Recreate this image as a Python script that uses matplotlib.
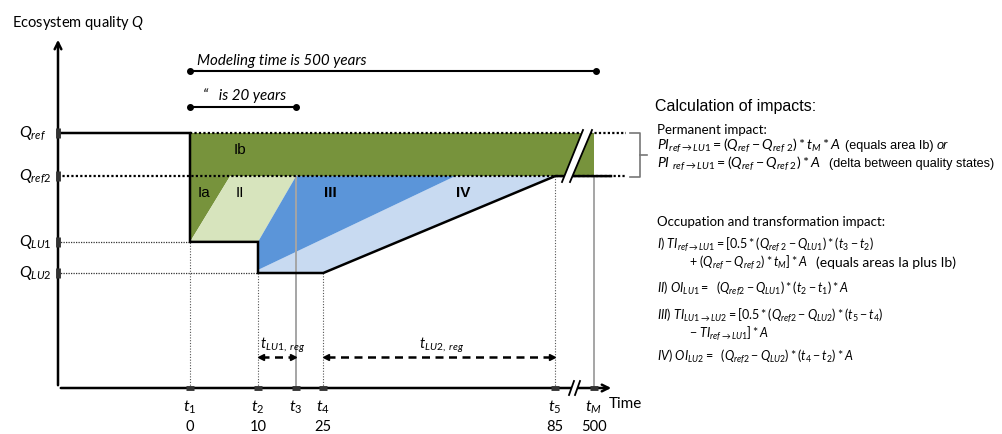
import matplotlib
matplotlib.use("Agg")
import matplotlib.pyplot as plt
from matplotlib.patches import Polygon, Rectangle

# ---------------- data (schematic diagram values) ----------------
t_symbols = ['1', '2', '3', '4', '5', 'M']
t_years = ['0', '10', '', '25', '85', '500']
t_sch = [0.0, 10.0, 15.6, 19.6, 53.7, 59.4]          # schematic time positions
Q_names = ['ref', 'ref2', 'LU1', 'LU2']
Q_vals = [1.0, 0.831, 0.573, 0.451]                  # ecosystem quality levels
ia_split = 5.9        # where the Ia / II boundary meets Q_ref2
iii_top = 39.0        # where the III / IV boundary meets Q_ref2
iii_base = 0.463      # where the III / IV boundary starts at t2
region_labels = ['Ib', 'Ia', 'II', 'III', 'IV']

# ---------------- layout helpers ----------------
W, H = 1003, 434
X0, Y0, SX, SY = 190, 388, 6.8, 255.0


def px(x):
    return (x - X0) / SX


def py(y):
    return (Y0 - y) / SY


plt.rcParams['font.family'] = ['Lato', 'DejaVu Sans']
plt.rcParams['mathtext.fontset'] = 'custom'
plt.rcParams['mathtext.rm'] = 'Lato'
plt.rcParams['mathtext.it'] = 'Lato:italic'
plt.rcParams['mathtext.bf'] = 'Lato:bold'
plt.rcParams['mathtext.sf'] = 'Lato'
plt.rcParams['mathtext.fallback'] = 'stixsans'

fig = plt.figure(figsize=(W / 100, H / 100), dpi=100)
ax = fig.add_axes([0, 0, 1, 1])
ax.set_xlim(px(0), px(W))
ax.set_ylim(py(H), py(0))
ax.axis('off')

t1, t2, t3, t4, t5, tM = t_sch
Qr, Qr2, Q1, Q2 = Q_vals
yax = px(58)
xend = px(614)

DKGREEN = '#77933C'
LTGREEN = '#D7E4BD'
BLUE = '#5B95D9'
LTBLUE = '#C8DAF1'

# ---------------- filled regions ----------------
ax.add_patch(Rectangle((t1, Qr2), tM - t1, Qr - Qr2, fc=DKGREEN, ec='none', zorder=1))
ax.add_patch(Polygon([(t1, Qr2), (t1, Q1), (ia_split, Qr2)], fc=DKGREEN, ec='none', zorder=1))
ax.add_patch(Polygon([(t1, Q1), (t2, Q1), (t3, Qr2), (ia_split, Qr2)], fc=LTGREEN, ec='none', zorder=1))
ax.add_patch(Polygon([(t2, Q2), (t4, Q2), (t5, Qr2), (iii_top, Qr2), (t2, iii_base)],
                     fc=LTBLUE, ec='none', zorder=1))
ax.add_patch(Polygon([(t2, iii_base), (t2, Q1), (t3, Qr2), (iii_top, Qr2)], fc=BLUE, ec='none', zorder=1))

# ---------------- guide lines ----------------
for t, q in [(t1, Q1), (t2, Q2), (t4, Q2), (t5, Qr2)]:
    ax.plot([t, t], [0, q], color='#555555', lw=0.8, ls=(0, (1, 1.5)), zorder=2)
for t, q in [(t3, Qr2), (tM, Qr2)]:
    ax.plot([t, t], [0, q], color='#a5a5a5', lw=1.4, zorder=2)

ax.plot([t1, px(626)], [Qr, Qr], color='black', lw=1.6, ls=(0, (1, 1)), zorder=3)
ax.plot([yax, px(626)], [Qr2, Qr2], color='black', lw=1.6, ls=(0, (1, 1)), zorder=3)
ax.plot([yax, t1], [Q1, Q1], color='#333333', lw=0.9, ls=(0, (1, 1)), zorder=3)
ax.plot([yax, t2], [Q2, Q2], color='#333333', lw=0.9, ls=(0, (1, 1)), zorder=3)

# ---------------- quality path ----------------
ax.plot([yax, t1, t1, t2, t2, t4, t5, px(611)],
        [Qr, Qr, Q1, Q1, Q2, Q2, Qr2, Qr2], color='black', lw=1.8, zorder=4,
        solid_joinstyle='miter')

# break marks in the green band
b1 = [(px(583), py(130)), (px(562), py(182))]
b2 = [(px(592), py(130)), (px(570), py(182))]
ax.add_patch(Polygon([b1[0], b2[0], b2[1], b1[1]], fc='white', ec='none', zorder=5))
for b in (b1, b2):
    ax.plot([b[0][0], b[1][0]], [b[0][1], b[1][1]], color='black', lw=1.3, zorder=6)

# ---------------- axes ----------------
ax.annotate('', xy=(yax, py(37)), xytext=(yax, 0),
            arrowprops=dict(arrowstyle='->', lw=1.8, color='black', mutation_scale=12), zorder=6)
ax.annotate('', xy=(xend, 0), xytext=(yax, 0),
            arrowprops=dict(arrowstyle='->', lw=1.8, color='black', mutation_scale=12), zorder=6)
for t in t_sch:
    ax.plot([t - 0.6, t + 0.6], [0, 0], color='#333333', lw=3.5, solid_capstyle='butt', zorder=7)
for q in Q_vals:
    ax.plot([yax, yax], [q - 0.02, q + 0.02], color='#333333', lw=3.5, solid_capstyle='butt', zorder=7)
a1 = [(px(569), py(395)), (px(574), py(381))]
a2 = [(px(575), py(395)), (px(580), py(381))]
ax.add_patch(Polygon([a1[0], a2[0], a2[1], a1[1]], fc='white', ec='none', zorder=8))
for b in (a1, a2):
    ax.plot([b[0][0], b[1][0]], [b[0][1], b[1][1]], color='black', lw=1.3, zorder=9)

# ---------------- axis labels ----------------
ax.text(px(12), py(23), 'Ecosystem quality $Q$', fontsize=10.5, ha='left', va='center')
for name, q in zip(Q_names, Q_vals):
    ax.text(px(19), q, f'$Q_{{{name}}}$', fontsize=11.5, ha='left', va='center')
for s, t, yr in zip(t_symbols, t_sch, t_years):
    lab = r'$t_M$' if s == 'M' else r'$t_{\mathit{%s}}$' % s
    ax.text(t, py(407), lab, fontsize=11.5, ha='center', va='center')
    if yr:
        ax.text(t, py(427), yr, fontsize=10.5, ha='center', va='center')
ax.text(px(609), py(404), 'Time', fontsize=11, ha='left', va='center')

# region labels
for lab, (x, y), bold in zip(region_labels,
                            [(px(240), py(150)), (px(204), py(193)), (px(240), py(193)),
                             (px(330), py(193)), (px(463), py(193))],
                            [False, False, False, True, True]):
    ax.text(x, y, lab, fontsize=11, ha='center', va='center', family='Liberation Sans',
            fontweight='bold' if bold else 'normal', zorder=10)

# ---------------- time span annotations ----------------
ax.plot([t1, tM + 0.3], [py(71), py(71)], color='black', lw=1.5, marker='o', ms=4, zorder=6)
ax.text(px(197), py(61), 'Modeling time is 500 years', fontsize=10.9, style='italic',
        ha='left', va='center')
ax.plot([t1, t3], [py(107), py(107)], color='black', lw=1.5, marker='o', ms=4, zorder=6)
ax.text(px(203), py(96), '\u201c   is 20 years', fontsize=10.9, style='italic',
        ha='left', va='center')

yarr = py(357)
for a, b in [(t2, t3), (t4, t5)]:
    ax.plot([a + 0.5, b - 0.5], [yarr, yarr], color='black', lw=1.8, ls=(0, (3.2, 2.2)), zorder=6)
    ax.plot([a + 0.45], [yarr], marker='<', color='black', ms=4.5, zorder=6)
    ax.plot([b - 0.45], [yarr], marker='>', color='black', ms=4.5, zorder=6)
ax.text(px(260), py(345), r'$t_{LU1,\ reg}$', fontsize=10.5, ha='left', va='center')
ax.text(px(442), py(345), r'$t_{LU2,\ reg}$', fontsize=10.5, ha='center', va='center')

# bracket
bx, bl = px(640), px(630)
ax.plot([bl, bx, bx, bl], [py(133), py(133), py(177), py(177)], color='#777777', lw=1.2,
        clip_on=False)
ax.plot([bx, px(647)], [py(155), py(155)], color='#777777', lw=1.2)

# ---------------- right text panel ----------------
renderer = fig.canvas.get_renderer()


def ft(x, y, s, **kw):
    kw.setdefault('fontsize', 9)
    return fig.text(x / W, 1 - y / H, s, ha='left', va='center', **kw)


def chain(x, y, parts):
    """Write several text pieces one after another on one line."""
    for s, kw, gap in parts:
        t = ft(x + gap, y, s, **kw)
        x = t.get_window_extent(renderer).x1


ARIAL = dict(family='Liberation Sans', fontsize=9.1)

ft(655, 107, 'Calculation of impacts:', fontsize=11.5, family='Liberation Sans')
ft(657, 130, 'Permanent impact:', fontsize=9.5)
chain(657, 146, [(r'$PI_{ref\rightarrow LU1} = (Q_{ref} - Q_{ref\ 2}) * t_M * A$', dict(fontsize=10.2), 0),
                 ('(equals area Ib)', ARIAL, 4),
                 ('or', dict(ARIAL, style='italic'), 3)])
chain(657, 164, [(r'$PI\ _{ref\rightarrow LU1} = (Q_{ref} - Q_{ref\ 2}) * A$', dict(fontsize=10.2), 0),
                 ('(delta between quality states)', ARIAL, 8)])
ft(657, 222, 'Occupation and transformation impact:', fontsize=9.5)
ft(657, 245, r'$\mathit{I)\ TI_{ref\rightarrow LU1} = [0.5 *(Q_{ref\ 2} - Q_{LU1}) * (t_3-t_2)}$')
chain(689, 263, [(r'$\mathit{+\ (Q_{ref} - Q_{ref\ 2}) * t_M] * A}$', {}, 0),
                 ('(equals areas Ia plus Ib)', dict(fontsize=10), 8)])
ft(657, 289, r'$\mathit{II)\ OI_{LU1} =\ \ (Q_{ref2} - Q_{LU1}) * (t_2-t_1) * A}$')
ft(657, 316, r'$\mathit{III)\ TI_{LU1\rightarrow LU2}= [0.5* (Q_{ref2} - Q_{LU2}) * (t_5-t_4)}$')
ft(689, 334, r'$\mathit{-\ TI_{ref\rightarrow LU1}] * A}$')
ft(657, 357, r'$\mathit{IV)\ OI_{LU2} =\ \ (Q_{ref2} - Q_{LU2}) * (t_4-t_2) * A}$')

fig.savefig('out.png', dpi=100)
